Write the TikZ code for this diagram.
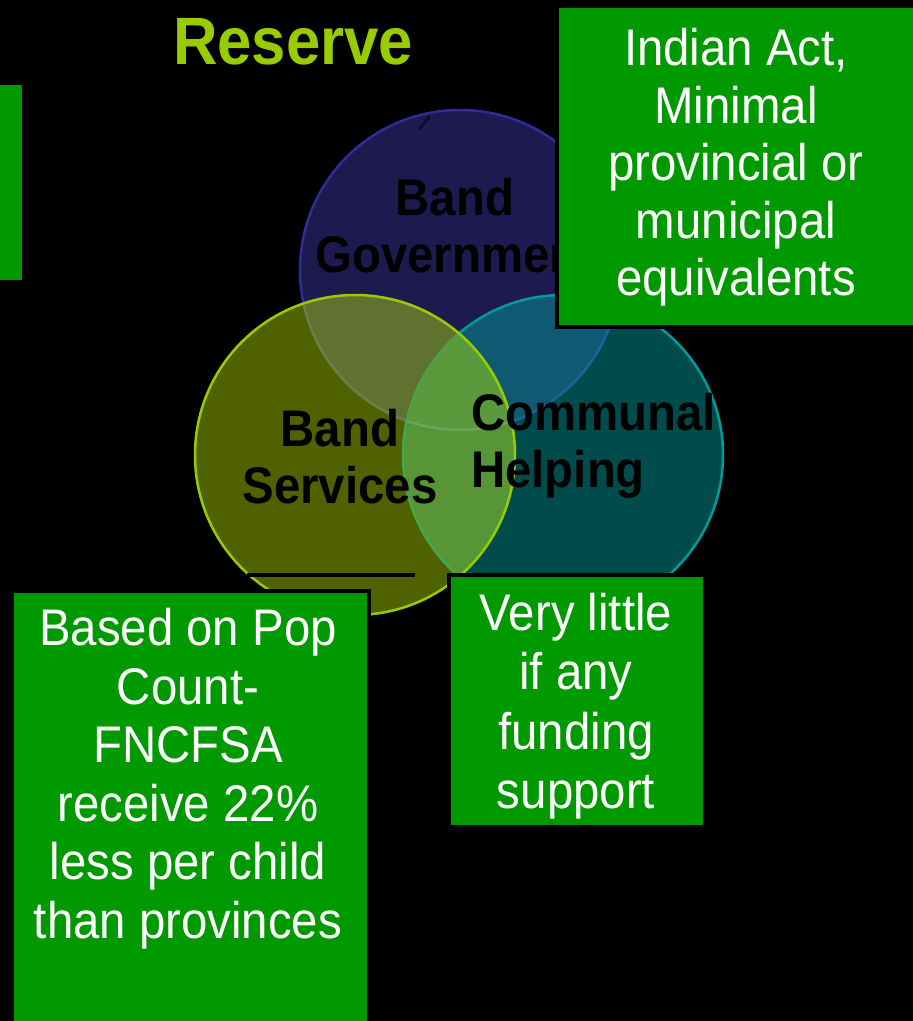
\documentclass[tikz,border=0pt]{standalone}
\usepackage{fontspec}
\setmainfont{Liberation Sans}[FakeStretch=0.92]
\definecolor{boxgreen}{HTML}{009900}
\definecolor{titlegreen}{HTML}{99CC00}
\definecolor{bluefill}{HTML}{1C1A4E}
\definecolor{blueline}{HTML}{2E2E96}
\definecolor{tealfill}{HTML}{004C4C}
\definecolor{tealline}{HTML}{009C9C}
\definecolor{yellowfill}{HTML}{4F6100}
\definecolor{yellowline}{HTML}{99CC00}
\definecolor{bymix}{HTML}{617230}
\definecolor{btmix}{HTML}{0F5A72}
\definecolor{ytmix}{HTML}{579537}
\definecolor{bytmix}{HTML}{5A9A3C}
\definecolor{bluelineT}{HTML}{1A62A0}
\definecolor{bluelineY}{HTML}{6E7D4C}
\definecolor{bluelineYT}{HTML}{68A658}
\definecolor{teallineY}{HTML}{45A64E}
\begin{document}
\begin{tikzpicture}[x=1pt,y=-1pt,
  greenbox/.style={rectangle,fill=boxgreen,draw=black,line width=4pt,
    inner sep=0pt,outer sep=0pt,anchor=north west},
  boxtext/.style={text=white,align=center,inner sep=0pt,anchor=north,
    font=\fontsize{51.5}{#1}\selectfont},
  venntext/.style={text=black,inner sep=0pt,
    font=\bfseries\fontsize{51.5}{57}\selectfont},
  ring/.style={line width=2.5pt}]
\def\R{160}
% page and background
\useasboundingbox (0,0) rectangle (913,1021);
\fill[black] (0,0) rectangle (913,1021);

% circle centres
\coordinate (B) at (460,270);
\coordinate (T) at (563,455);
\coordinate (Y) at (355,455);

% title
\node[text=titlegreen,font=\bfseries\fontsize{67}{70}\selectfont,
  anchor=base,inner sep=0pt] (title) at (293,64) {Reserve};

% blue circle
\fill[bluefill] (B) circle (\R);
\draw[ring,blueline] (B) circle (\R);

% teal circle with its overlap on blue
\fill[tealfill] (T) circle (\R);
\begin{scope}
  \clip (T) circle (\R);
  \fill[btmix] (B) circle (\R);
  \draw[ring,bluelineT] (B) circle (\R);
\end{scope}
\draw[ring,tealline] (T) circle (\R);

% yellow circle with its overlaps
\fill[yellowfill] (Y) circle (\R);
\begin{scope}
  \clip (Y) circle (\R);
  \fill[bymix] (B) circle (\R);
  \fill[ytmix] (T) circle (\R);
  \draw[ring,bluelineY] (B) circle (\R);
  \draw[ring,teallineY] (T) circle (\R);
  \begin{scope}
    \clip (T) circle (\R);
    \fill[bytmix] (B) circle (\R);
    \draw[ring,bluelineYT] (B) circle (\R);
  \end{scope}
\end{scope}
\draw[ring,yellowline] (Y) circle (\R);

% small mark at the top of the blue circle
\coordinate (tick1) at (419,129);
\coordinate (tick2) at (430,116);
\draw[line width=2.5pt,color={rgb,255:red,11;green,11;blue,42}] (tick1) -- (tick2);

% circle labels
\node[venntext,align=center,anchor=north] (gov) at (455,178) {Band\\Government};
\node[venntext,align=center,anchor=north] (serv) at (340,409) {Band\\Services};
\node[venntext,align=left,anchor=north west] (comm) at (471,393) {Communal\\Helping};

% rule under the services label
\coordinate (ul1) at (247,575);
\coordinate (ul2) at (415,575);
\draw[line width=3.5pt,black] (ul1) -- (ul2);

% green boxes
\node[greenbox,minimum width=34pt,minimum height=199pt] (bar) at (-10,83) {};
\node[greenbox,minimum width=368pt,minimum height=321pt] (actbox) at (557,6) {};
\node[greenbox,minimum width=357pt,minimum height=444pt] (popbox) at (12,591) {};
\node[greenbox,minimum width=256pt,minimum height=252pt] (fundbox) at (449,575) {};

% box texts
\node[boxtext=57.5] (acttext) at (736,28)
  {Indian Act,\\Minimal\\provincial or\\municipal\\equivalents};
\node[boxtext=58.6] (poptext) at (188,608)
  {Based on Pop\\Count-\\FNCFSA\\receive 22\%\\less per child\\than provinces};
\node[boxtext=59.3] (fundtext) at (576,593)
  {Very little\\if any\\funding\\support};
\end{tikzpicture}
\end{document}
